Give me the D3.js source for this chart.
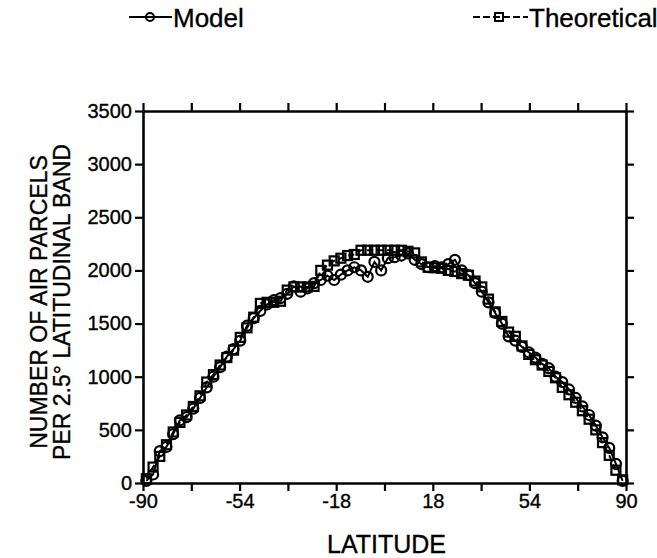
<!DOCTYPE html>
<html>
<head>
<meta charset="utf-8">
<script src="https://cdn.jsdelivr.net/npm/d3@7"></script>
<style>
  html, body { margin: 0; padding: 0; background: #fff; }
  svg { display: block; font-family: "Liberation Sans", Arial, Helvetica, sans-serif; }
  text { stroke: #000; stroke-width: 0.35px; }
</style>
</head>
<body>
<svg id="chart" width="657" height="558"></svg>
<script>
// Band centres (2.5 degree latitudinal bands)
const latitudes = [
  -88.75, -86.25, -83.75, -81.25, -78.75, -76.25, -73.75, -71.25, -68.75, -66.25,
  -63.75, -61.25, -58.75, -56.25, -53.75, -51.25, -48.75, -46.25, -43.75, -41.25,
  -38.75, -36.25, -33.75, -31.25, -28.75, -26.25, -23.75, -21.25, -18.75, -16.25,
  -13.75, -11.25, -8.75, -6.25, -3.75, -1.25, 1.25, 3.75, 6.25, 8.75,
  11.25, 13.75, 16.25, 18.75, 21.25, 23.75, 26.25, 28.75, 31.25, 33.75,
  36.25, 38.75, 41.25, 43.75, 46.25, 48.75, 51.25, 53.75, 56.25, 58.75,
  61.25, 63.75, 66.25, 68.75, 71.25, 73.75, 76.25, 78.75, 81.25, 83.75,
  86.25, 88.75
];

// Model counts per band
const modelValues = [
  20, 80, 300, 340, 460, 590, 620, 700, 800, 900,
  1000, 1090, 1190, 1260, 1340, 1480, 1550, 1620, 1680, 1720,
  1740, 1780, 1850, 1800, 1830, 1880, 1910, 1950, 1910, 1960,
  2000, 2030, 2000, 1940, 2080, 2000, 2115, 2125, 2140, 2160,
  2100, 2060, 2030, 2040, 2030, 2060, 2100, 2000, 1955, 1880,
  1800, 1700, 1600, 1500, 1380, 1340, 1280, 1230, 1180, 1120,
  1080, 1000, 950, 880, 800, 720, 640, 540, 430, 330,
  180, 20
];

// Theoretical counts per band
const theoreticalValues = [
  40, 150, 250, 360, 480, 570, 640, 720, 820, 950,
  1020, 1110, 1180, 1250, 1370, 1460, 1560, 1690, 1700, 1700,
  1710, 1815, 1845, 1845, 1845, 1850, 2000, 2050, 2090, 2115,
  2140, 2150, 2190, 2190, 2190, 2190, 2190, 2190, 2190, 2180,
  2165, 2080, 2030, 2025, 2020, 2000, 1990, 1970, 1955, 1900,
  1845, 1730, 1610, 1520, 1420, 1380, 1290, 1210, 1160, 1110,
  1050, 990, 900, 830, 760, 680, 600, 500, 380, 260,
  120, 30
];

const xTicks = [-90, -72, -54, -36, -18, 0, 18, 36, 54, 72, 90];
const xTickLabels = [-90, -54, -18, 18, 54, 90];
const yTicks = [0, 500, 1000, 1500, 2000, 2500, 3000, 3500];

const svg = d3.select('#chart');

const x = d3.scaleLinear().domain([-90, 90]).range([143, 626]);
const y = d3.scaleLinear().domain([0, 3500]).range([483, 111]);

const tickLen = 8;
const labelFont = '20px';

// Axes on all four sides, ticks pointing outward
function styleAxis(sel) {
  sel.select('.domain').attr('stroke', '#000').attr('stroke-width', 2.6);
  sel.selectAll('.tick line').attr('stroke', '#000').attr('stroke-width', 2.2);
  sel.selectAll('.tick text').attr('fill', '#000').style('font-size', labelFont);
}

const bottomAxis = svg.append('g')
  .attr('transform', `translate(0,${y(0)})`)
  .call(d3.axisBottom(x).tickValues(xTicks).tickSize(tickLen).tickSizeOuter(0).tickPadding(3)
    .tickFormat(d => xTickLabels.includes(d) ? String(d) : ''));
styleAxis(bottomAxis);

const topAxis = svg.append('g')
  .attr('transform', `translate(0,${y(3500)})`)
  .call(d3.axisTop(x).tickValues(xTicks).tickSize(tickLen).tickSizeOuter(0).tickFormat(''));
styleAxis(topAxis);

const leftAxis = svg.append('g')
  .attr('transform', `translate(${x(-90)},0)`)
  .call(d3.axisLeft(y).tickValues(yTicks).tickSize(tickLen).tickSizeOuter(0).tickPadding(3)
    .tickFormat(d => String(d)));
styleAxis(leftAxis);

const rightAxis = svg.append('g')
  .attr('transform', `translate(${x(90)},0)`)
  .call(d3.axisRight(y).tickValues(yTicks).tickSize(tickLen).tickSizeOuter(0).tickFormat(''));
styleAxis(rightAxis);

// Series lines
const line = d3.line().x((d, i) => x(latitudes[i])).y(d => y(d));

svg.append('path')
  .datum(theoreticalValues)
  .attr('d', line)
  .attr('fill', 'none')
  .attr('stroke', '#000')
  .attr('stroke-width', 2)
  .attr('stroke-dasharray', '6,4');

svg.append('path')
  .datum(modelValues)
  .attr('d', line)
  .attr('fill', 'none')
  .attr('stroke', '#000')
  .attr('stroke-width', 2);

// Markers
svg.append('g').selectAll('rect')
  .data(theoreticalValues)
  .enter().append('rect')
  .attr('x', (d, i) => x(latitudes[i]) - 4.5)
  .attr('y', d => y(d) - 4.5)
  .attr('width', 9)
  .attr('height', 9)
  .attr('fill', 'none')
  .attr('stroke', '#000')
  .attr('stroke-width', 2.2);

svg.append('g').selectAll('circle')
  .data(modelValues)
  .enter().append('circle')
  .attr('cx', (d, i) => x(latitudes[i]))
  .attr('cy', d => y(d))
  .attr('r', 5)
  .attr('fill', 'none')
  .attr('stroke', '#000')
  .attr('stroke-width', 2.2);

// Axis titles
svg.append('text')
  .attr('x', (x(-90) + x(90)) / 2 + 2)
  .attr('y', 553)
  .attr('text-anchor', 'middle')
  .style('font-size', '25px')
  .text('LATITUDE');

const yTitle = svg.append('text')
  .attr('transform', `translate(0,${(y(0) + y(3500)) / 2 + 5}) rotate(-90)`)
  .attr('text-anchor', 'middle')
  .style('font-size', '23px');
yTitle.append('tspan').attr('x', 0).attr('y', 47).text('NUMBER OF AIR PARCELS');
yTitle.append('tspan').attr('x', 0).attr('y', 70).text('PER 2.5\u00B0 LATITUDINAL BAND');

// Legend
const legend = svg.append('g');
legend.append('line')
  .attr('x1', 129).attr('x2', 172).attr('y1', 17).attr('y2', 17)
  .attr('stroke', '#000').attr('stroke-width', 2);
legend.append('circle')
  .attr('cx', 150).attr('cy', 17).attr('r', 4)
  .attr('fill', 'none').attr('stroke', '#000').attr('stroke-width', 2);
legend.append('text')
  .attr('x', 173).attr('y', 27)
  .style('font-size', '26px')
  .text('Model');

legend.append('line')
  .attr('x1', 473).attr('x2', 528).attr('y1', 17).attr('y2', 17)
  .attr('stroke', '#000').attr('stroke-width', 2)
  .attr('stroke-dasharray', '7,3');
legend.append('rect')
  .attr('x', 495).attr('y', 13).attr('width', 8).attr('height', 8)
  .attr('fill', 'none').attr('stroke', '#000').attr('stroke-width', 2);
legend.append('text')
  .attr('x', 529).attr('y', 27)
  .style('font-size', '26px')
  .text('Theoretical');
</script>
</body>
</html>
